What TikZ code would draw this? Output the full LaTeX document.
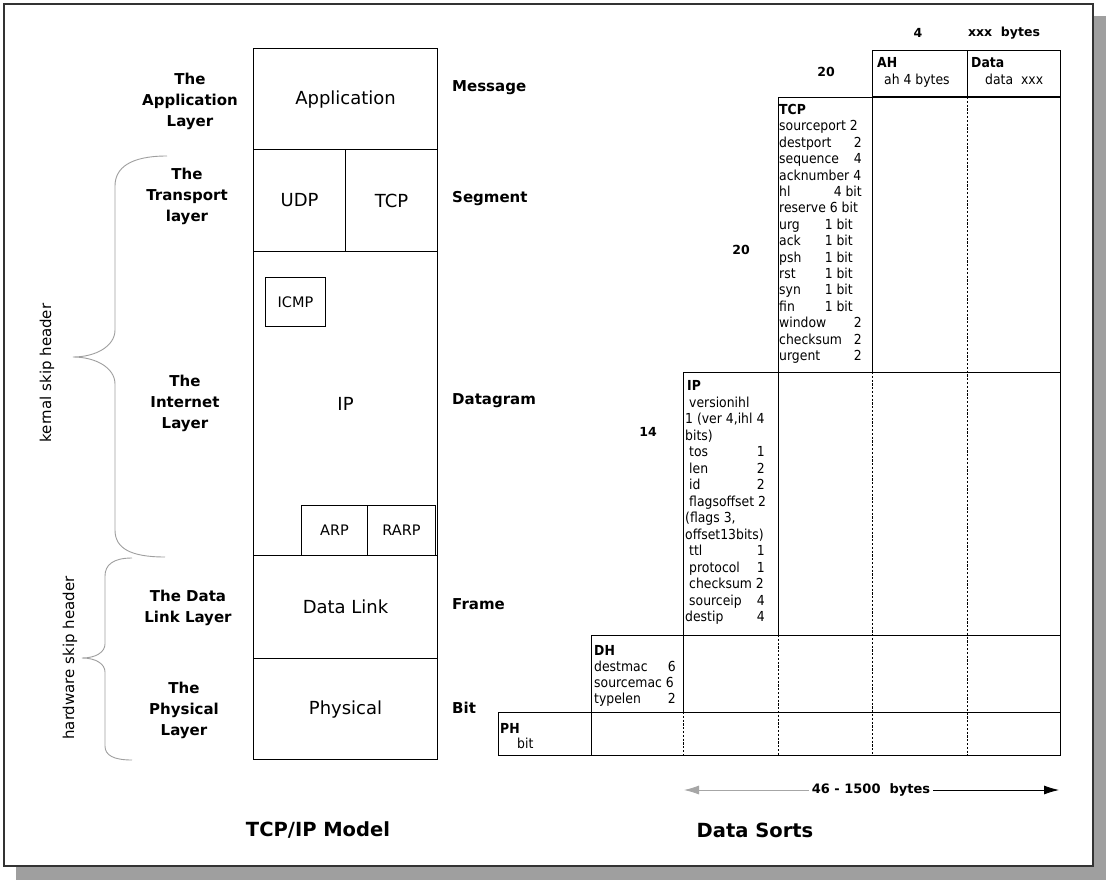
\documentclass[tikz,border=0pt]{standalone}
\usepackage{fontspec}
\setmainfont{DejaVu Sans}
\newfontfamily\cellfont[FakeStretch=0.9]{DejaVu Sans}
\usetikzlibrary{arrows.meta}
\newcommand\myfs[1]{\fontsize{#1}{#1}\selectfont}
\begin{document}
\begin{tikzpicture}[x=1pt,y=-1pt,
  shadowfill/.style={fill=gray!75},
  frame/.style={draw=gray!40!black,line width=1.2pt},
  mbox/.style={draw,line width=1.1pt,inner sep=0pt,anchor=north west,font=\myfs{18}},
  sbox/.style={draw,line width=1pt,inner sep=0pt,anchor=north west,font=\myfs{14.5}},
  hbox/.style={draw,line width=1pt,inner sep=0pt,anchor=north west},
  layer/.style={font=\bfseries\fontsize{15}{21}\selectfont,align=center,inner sep=0pt},
  unitlbl/.style={anchor=west,font=\bfseries\myfs{15},inner sep=0pt},
  cell/.style={anchor=west,inner sep=0pt,text height=10pt,text depth=3pt,font=\cellfont\myfs{13.8}},
  cellb/.style={cell,font=\cellfont\bfseries\myfs{13.8}},
  cellv/.style={cell,anchor=east},
  num/.style={font=\bfseries\myfs{12.5},inner sep=0pt},
  rowline/.style={line width=1pt},
  dsh/.style={line width=0.9pt,dash pattern=on 2.2pt off 1.6pt},
  brace/.style={draw=gray!75,line width=0.9pt},
  vlabel/.style={rotate=90,font=\myfs{15},inner sep=0pt},
  title/.style={font=\bfseries\myfs{19.5},inner sep=0pt},
  tip/.style={-{Latex[length=15pt,width=9pt]}}]
\useasboundingbox (0,0) rectangle (1106,880);
\fill[white] (0,0) rectangle (1106,880);
% page frame and shadow
\fill[shadowfill] (1093,16) rectangle (1106,880);
\fill[shadowfill] (16,866) rectangle (1106,880);
\draw[frame] (4,4) rectangle (1093,866);

% ---------------- TCP/IP model ----------------
\node[mbox,minimum width=184pt,minimum height=101pt] (app) at (253,48) {Application};
\node[mbox,minimum width=92pt,minimum height=102pt] (udp) at (253,149) {UDP};
\node[mbox,minimum width=92pt,minimum height=102pt] (tcp) at (345,149) {TCP};
\node[mbox,minimum width=184pt,minimum height=304pt] (ip) at (253,251) {IP};
\node[sbox,minimum width=60pt,minimum height=49pt] (icmp) at (265,277) {ICMP};
\node[sbox,minimum width=66pt,minimum height=50pt] (arp) at (301,505) {ARP};
\node[sbox,minimum width=68pt,minimum height=50pt] (rarp) at (367,505) {RARP};
\node[mbox,minimum width=184pt,minimum height=103pt] (dl) at (253,555) {Data Link};
\node[mbox,minimum width=184pt,minimum height=101pt] (phy) at (253,658) {Physical};

% layer names
\node[layer] (lapp) at (190,101) {The\\Application\\Layer};
\node[layer] (ltra) at (187,196) {The\\Transport\\layer};
\node[layer] (lint) at (185,403) {The\\Internet\\Layer};
\node[layer] (ldl) at (188,608) {The Data\\Link Layer};
\node[layer] (lphy) at (184,710) {The\\Physical\\Layer};

% data unit names
\node[unitlbl] (umsg) at (452,88) {Message};
\node[unitlbl] (useg) at (452,199) {Segment};
\node[unitlbl] (udg) at (452,401) {Datagram};
\node[unitlbl] (ufr) at (452,604) {Frame};
\node[unitlbl] (ubit) at (452,708) {Bit};

% braces
\draw[brace] (167,156) .. controls (130,156) and (115,168) .. (115,186) -- (115,330)
  .. controls (115,346) and (96,357) .. (73,357)
  .. controls (96,357) and (115,368) .. (115,384) -- (115,530)
  .. controls (115,548) and (130,557) .. (165,557);
\draw[brace] (132,558) .. controls (113,558) and (105,565) .. (105,576) -- (105,644)
  .. controls (105,652) and (96,658) .. (82,658)
  .. controls (96,658) and (105,664) .. (105,672) -- (105,746)
  .. controls (105,755) and (113,760) .. (132,760);
\node[vlabel] (kern) at (47,373) {kernal skip header};
\node[vlabel] (hw) at (70,658) {hardware skip header};

\node[title] (t1) at (318,830) {TCP/IP Model};
\node[title] (t2) at (755,830) {Data Sorts};

% ---------------- Data sorts ----------------
% row outlines
\draw[rowline] (872,97) -- (1060,97) -- (1060,755) -- (498,755);
\draw[rowline] (683,372) -- (1060,372);
\draw[rowline] (591,635) -- (1060,635);
\draw[rowline] (498,712) -- (1060,712);
% dashed dividers
\draw[dsh] (967,97) -- (967,755);
\draw[dsh] (872,372) -- (872,755);
\draw[dsh] (778,635) -- (778,755);
\draw[dsh] (683,712) -- (683,755);

% header boxes
\node[hbox,minimum width=95pt,minimum height=47pt] (ah) at (872,50) {};
\node[hbox,minimum width=93pt,minimum height=47pt] (dat) at (967,50) {};
\node[hbox,minimum width=94pt,minimum height=275pt] (tcph) at (778,97) {};
\node[hbox,minimum width=95pt,minimum height=263pt] (iph) at (683,372) {};
\node[hbox,minimum width=92pt,minimum height=77pt] (dh) at (591,635) {};
\node[hbox,minimum width=93pt,minimum height=43pt] (ph) at (498,712) {};

% size labels
\node[num] (n4) at (918,33) {4};
\node[num] (nxxx) at (1004,33) {xxx\ \ bytes};
\node[num] (n20a) at (826,72) {20};
\node[num] (n20b) at (741,250) {20};
\node[num] (n14) at (648,432) {14};

% AH / Data
\node[cellb] (aht) at (877,64) {AH};
\node[cell] (ahv) at (884,81) {ah 4 bytes};
\node[cellb] (datt) at (971,64) {Data};
\node[cell] (datv) at (985,81) {data\ \ xxx};

% TCP header fields
\node[cellb] (tcpt) at (779,111) {TCP};
\foreach \l/\v/\r [count=\i] in {
  {sourceport 2}/{}/862, {destport}/{2}/862, {sequence}/{4}/862,
  {acknumber 4}/{}/862, {hl}/{4 bit}/862, {reserve 6 bit}/{}/862,
  {urg}/{1 bit}/853, {ack}/{1 bit}/853, {psh}/{1 bit}/853,
  {rst}/{1 bit}/853, {syn}/{1 bit}/853, {fin}/{1 bit}/853,
  {window}/{2}/862, {checksum}/{2}/862, {urgent}/{2}/862}
{
  \node[cell] (tcpl\i) at (779,{111+16.4*\i}) {\l};
  \node[cellv] (tcpv\i) at (\r,{111+16.4*\i}) {\v};
}

% IP header fields
\node[cellb] (ipt) at (687,387) {IP};
\foreach \l/\v/\x [count=\i] in {
  {versionihl}/{}/689, {1 (ver 4,ihl 4}/{}/685, {bits)}/{}/685,
  {tos}/{1}/689, {len}/{2}/689, {id}/{2}/689,
  {flagsoffset 2}/{}/689, {(flags 3,}/{}/685, {offset13bits)}/{}/685,
  {ttl}/{1}/689, {protocol}/{1}/689, {checksum 2}/{}/689,
  {sourceip}/{4}/689, {destip}/{4}/685}
{
  \node[cell] (ipl\i) at (\x,{387+16.5*\i}) {\l};
  \node[cellv] (ipv\i) at (765,{387+16.5*\i}) {\v};
}

% DH fields
\node[cellb] (dht) at (594,652) {DH};
\node[cell] (dh1) at (594,668) {destmac};
\node[cellv] (dh1v) at (676,668) {6};
\node[cell] (dh2) at (594,684) {sourcemac 6};
\node[cell] (dh3) at (594,700) {typelen};
\node[cellv] (dh3v) at (676,700) {2};

% PH fields
\node[cellb] (pht) at (500,730) {PH};
\node[cell] (ph1) at (517,745) {bit};

% frame size arrow
\node[num,font=\bfseries\myfs{13},inner sep=3pt] (range) at (871,790) {46 - 1500\ \ bytes};
\coordinate (rl) at (684,790);
\coordinate (rr) at (1059,790);
\draw[gray!70,line width=0.8pt,tip] (range.west) -- (rl);
\draw[line width=0.8pt,tip] (range.east) -- (rr);
\end{tikzpicture}
\end{document}
